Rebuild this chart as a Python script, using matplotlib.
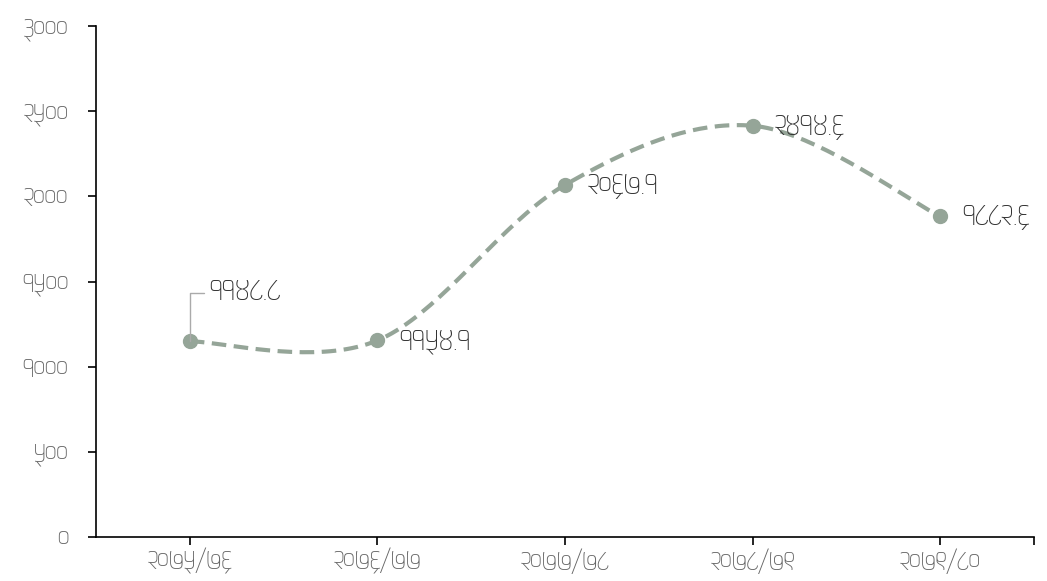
import numpy as np
import matplotlib
matplotlib.use("Agg")
import matplotlib.pyplot as plt
from matplotlib import font_manager

years = ["२०७५/७६", "२०७६/७७", "२०७७/७८", "२०७८/७९", "२०७९/८०"]
values = [1148.8, 1154.1, 2067.1, 2414.6, 1882.6]
y_ticks = [0, 500, 1000, 1500, 2000, 2500, 3000]

DEV_DIGITS = str.maketrans("0123456789", "०१२३४५६७८९")
LINE_COLOR = "#95a598"


def catmull_rom(x, y, steps=40):
    """Smooth line through the points (same look as a spreadsheet 'smoothed line')."""
    p = np.column_stack([x, y]).astype(float)
    ext = np.vstack([p[0], p, p[-1]])
    out = []
    for i in range(len(p) - 1):
        p0, p1 = p[i], p[i + 1]
        m0 = (ext[i + 2] - ext[i]) / 2
        m1 = (ext[i + 3] - ext[i + 1]) / 2
        t = np.linspace(0, 1, steps)[:, None]
        h00 = 2 * t**3 - 3 * t**2 + 1
        h10 = t**3 - 2 * t**2 + t
        h01 = -2 * t**3 + 3 * t**2
        h11 = t**3 - t**2
        seg = h00 * p0 + h10 * m0 + h01 * p1 + h11 * m1
        out.append(seg if i == 0 else seg[1:])
    out = np.vstack(out)
    return out[:, 0], out[:, 1]


available = {f.name for f in font_manager.fontManager.ttflist}
families = [f for f in ["Matangi", "Noto Sans Devanagari", "FreeSans"] if f in available]
plt.rcParams["font.family"] = families + ["DejaVu Sans"]

fig = plt.figure(figsize=(10.47, 5.81), dpi=100)
ax = fig.add_axes([0.0917, 0.0757, 0.8959, 0.8795])

x = np.arange(len(values))
sx, sy = catmull_rom(x, values)
ax.plot(sx, sy, color=LINE_COLOR, lw=3, dashes=(3.5, 1.8), solid_capstyle="butt")
ax.plot(x, values, "o", color=LINE_COLOR, markersize=10, zorder=3)

for i, v in enumerate(values):
    label = f"{v:.1f}".translate(DEV_DIGITS)
    if i == 0:
        # first label sits above with a leader line
        ax.annotate(label, xy=(i, v), xytext=(14, 35), textcoords="offset points",
                    ha="left", va="center", fontsize=17, color="#333333",
                    arrowprops=dict(arrowstyle="-", color="#aaaaaa", lw=1,
                                    connectionstyle="angle,angleA=0,angleB=90,rad=0",
                                    shrinkA=2, shrinkB=0))
    else:
        ax.annotate(label, xy=(i, v), xytext=(16, -1), textcoords="offset points",
                    ha="left", va="center", fontsize=17, color="#333333")

ax.set_xlim(-0.5, 4.5)
ax.set_ylim(0, 3000)
ax.set_xticks(x)
ax.set_xticklabels(years)
ax.set_xticks([4.5], minor=True)
ax.set_yticks(y_ticks)
ax.set_yticklabels([str(t).translate(DEV_DIGITS) for t in y_ticks])

for side in ["top", "right"]:
    ax.spines[side].set_visible(False)
for side in ["left", "bottom"]:
    ax.spines[side].set_linewidth(1.2)
ax.tick_params(axis="both", which="both", length=6, width=1.2, labelsize=15,
               labelcolor="#666666")
ax.tick_params(axis="y", pad=14)
ax.tick_params(axis="x", pad=3)

fig.savefig("out.png", dpi=100)
